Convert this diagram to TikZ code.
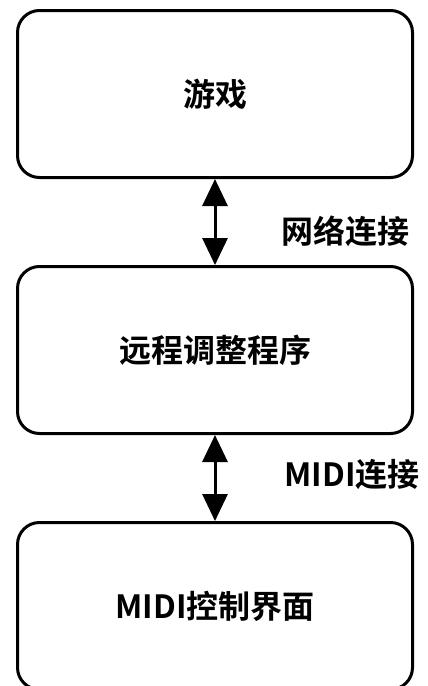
\documentclass[tikz,border=0pt]{standalone}
\usepackage{fontspec}
\setmainfont{Noto Sans CJK SC}[BoldFont={Noto Sans CJK SC Bold}]
\usetikzlibrary{arrows.meta,positioning}
\tikzset{
  stage/.style={draw=black, line width=3pt, rounded corners=22pt, fill=white,
    align=center, minimum width=395pt, minimum height=167pt, font=\fontsize{32}{36}\selectfont\bfseries},
  link/.style={{Triangle[width=25pt,length=27pt]}-{Triangle[width=25pt,length=27pt]}, line width=3pt},
  linklabel/.style={inner sep=0pt, font=\fontsize{32}{36}\selectfont\bfseries}
}
\begin{document}
\begin{tikzpicture}[node distance=86pt]
  \useasboundingbox (0,0) rectangle (428pt,-686pt);
  \node[stage] (game) at (215pt,-94pt) {游戏};
  \node[stage, below=of game] (tuner) {远程调整程序};
  \node[stage, below=of tuner] (midipanel) {MIDI控制界面};
  \draw[link] (game) -- node[linklabel, right=65pt, yshift=-9pt]{网络连接} (tuner);
  \draw[link] (tuner) -- node[linklabel, right=68pt, yshift=4pt]{MIDI连接} (midipanel);
\end{tikzpicture}
\end{document}
